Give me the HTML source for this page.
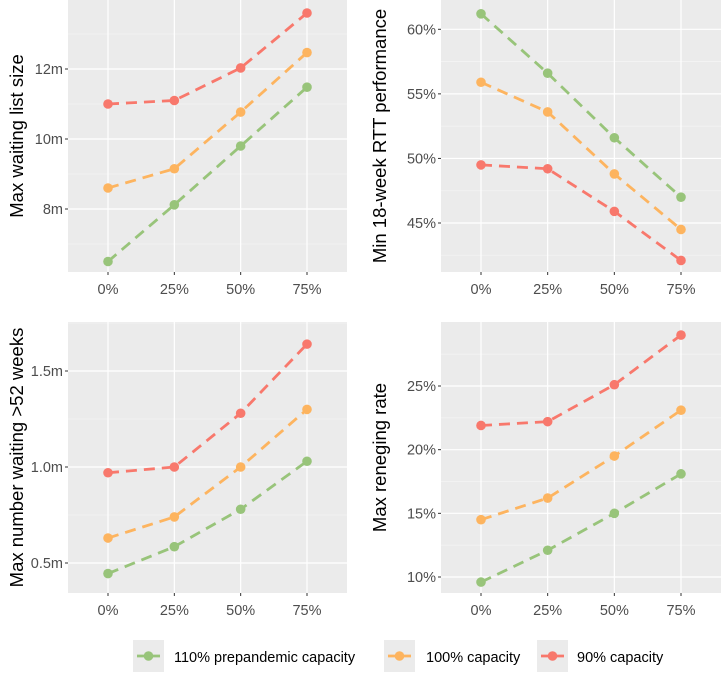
<!DOCTYPE html>
<html><head><meta charset="utf-8"><style>
body{margin:0;background:#fff;width:722px;height:672px;overflow:hidden;font-family:"Liberation Sans",sans-serif}
</style></head><body>
<svg id="chart" width="722" height="672" xmlns="http://www.w3.org/2000/svg" font-family="Liberation Sans, sans-serif"></svg>
<script>
const categories=["0%","25%","50%","75%"];
const seriesNames=["110% prepandemic capacity","100% capacity","90% capacity"];
const seriesColors=["#98c47a","#fdb45f","#f8786c"];
// panel 1: max waiting list size (millions)
const p1Green=[6.5,8.12,9.8,11.48];
const p1Orange=[8.6,9.15,10.77,12.47];
const p1Red=[11.0,11.1,12.03,13.6];
const p1Ticks=[8,10,12];
const p1Labels=["8m","10m","12m"];
// panel 2: min 18-week RTT performance (%)
const p2Green=[61.2,56.6,51.6,47.0];
const p2Orange=[55.9,53.6,48.8,44.5];
const p2Red=[49.5,49.2,45.9,42.1];
const p2Ticks=[45,50,55,60];
const p2Labels=["45%","50%","55%","60%"];
// panel 3: max number waiting >52 weeks (millions)
const p3Green=[0.445,0.585,0.78,1.03];
const p3Orange=[0.63,0.74,1.0,1.30];
const p3Red=[0.97,1.0,1.28,1.64];
const p3Ticks=[0.5,1.0,1.5];
const p3Labels=["0.5m","1.0m","1.5m"];
// panel 4: max reneging rate (%)
const p4Green=[9.6,12.1,15.0,18.1];
const p4Orange=[14.5,16.2,19.5,23.1];
const p4Red=[21.9,22.2,25.1,29.0];
const p4Ticks=[10,15,20,25];
const p4Labels=["10%","15%","20%","25%"];

const svg=document.getElementById('chart');
const NS="http://www.w3.org/2000/svg";
function mk(tag,attrs,parent){const e=document.createElementNS(NS,tag);for(const k in attrs)e.setAttribute(k,attrs[k]);(parent||svg).appendChild(e);return e;}

const panels=[
 {x0:68,x1:347,y0:0,y1:272,v0:12,px0:69,v1:10,px1:139,ticks:p1Ticks,labels:p1Labels,series:[p1Green,p1Orange,p1Red],title:"Max waiting list size",tx:23,name:"waiting-list-panel"},
 {x0:441,x1:721,y0:0,y1:272,v0:60,px0:29.3,v1:45,px1:223,ticks:p2Ticks,labels:p2Labels,series:[p2Green,p2Orange,p2Red],title:"Min 18-week RTT performance",tx:386,name:"rtt-panel"},
 {x0:68,x1:347,y0:322,y1:593,v0:1.5,px0:371,v1:0.5,px1:563,ticks:p3Ticks,labels:p3Labels,series:[p3Green,p3Orange,p3Red],title:"Max number waiting >52 weeks",tx:23,name:"over52-panel"},
 {x0:441,x1:721,y0:322,y1:593,v0:25,px0:386,v1:10,px1:577,ticks:p4Ticks,labels:p4Labels,series:[p4Green,p4Orange,p4Red],title:"Max reneging rate",tx:386,name:"reneging-panel"}
];
panels.forEach(p=>{
 const g=mk('g',{});
 
 
 const xs=i=>p.x0+40+i*(p.x1-p.x0-80)/3;
 const ys=v=>p.px0+(v-p.v0)*(p.px1-p.px0)/(p.v1-p.v0);
 const bg=mk('rect',{x:p.x0,y:p.y0,width:p.x1-p.x0,height:p.y1-p.y0,fill:'#ebebeb'},g);
 
 
 const step=p.ticks[1]-p.ticks[0];
 for(let k=-2;k<p.ticks.length+2;k++){const v=p.ticks[0]+step*(k-0.5);const y=ys(v);if(y>p.y0&&y<p.y1)mk('line',{x1:p.x0,x2:p.x1,y1:y,y2:y,stroke:'#f4f4f4','stroke-width':0.8},g);}
 p.ticks.forEach((v,i)=>{const y=ys(v);
  mk('line',{x1:p.x0,x2:p.x1,y1:y,y2:y,stroke:'#fff','stroke-width':1.2},g);
  mk('line',{x1:p.x0-3,x2:p.x0,y1:y,y2:y,stroke:'#333','stroke-width':1},g);
  const t=mk('text',{x:p.x0-5,y:y+5,'text-anchor':'end','font-size':14.5,fill:'#4d4d4d'},g);t.textContent=p.labels[i];
  
  
 });
 categories.forEach((c,i)=>{const x=xs(i);
  mk('line',{x1:x,x2:x,y1:p.y0,y2:p.y1,stroke:'#fff','stroke-width':1.2},g);
  mk('line',{x1:x,x2:x,y1:p.y1,y2:p.y1+3,stroke:'#333','stroke-width':1},g);
  const t=mk('text',{x:x,y:p.y1+22,'text-anchor':'middle','font-size':14.5,fill:'#4d4d4d'},g);t.textContent=c;
  
  
 });
 const cy=(p.y0+p.y1)/2;
 const tt=mk('text',{x:p.tx,y:cy,'text-anchor':'middle','font-size':18.5,fill:'#000',transform:`rotate(-90 ${p.tx} ${cy})`},g);tt.textContent=p.title;
 
 
 p.series.forEach((s,si)=>{
  const pts=s.map((v,i)=>xs(i)+','+ys(v)).join(' ');
  const l=mk('polyline',{points:pts,fill:'none',stroke:seriesColors[si],'stroke-width':2.8,'stroke-dasharray':'11 7'},g);
  
  
  s.forEach((v,i)=>{const c=mk('circle',{cx:xs(i),cy:ys(v),r:4.8,fill:seriesColors[si]},g);
   
   });
 });
});
const keyX=[133,384,537],textX=[174,426,577];
seriesNames.forEach((n,i)=>{
 const g=mk('g',{});
 
 
 mk('rect',{x:keyX[i],y:640,width:31,height:32,fill:'#ebebeb'},g);
 mk('line',{x1:keyX[i]+4,x2:keyX[i]+27,y1:656,y2:656,stroke:seriesColors[i],'stroke-width':2.8},g);
 mk('circle',{cx:keyX[i]+15.5,cy:656,r:4.8,fill:seriesColors[i]},g);
 const t=mk('text',{x:textX[i],y:662,'font-size':14.5,fill:'#000'},g);t.textContent=n;
});
</script>
</body></html>
